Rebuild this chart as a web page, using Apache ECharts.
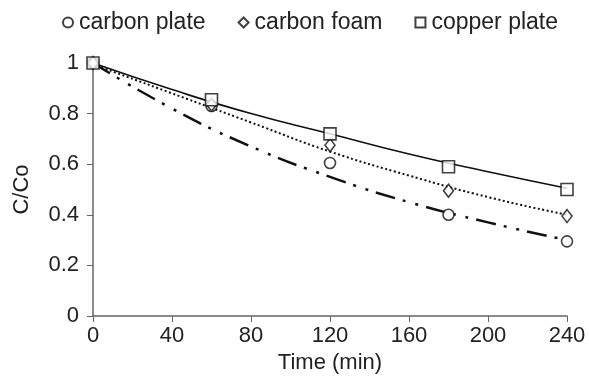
<!DOCTYPE html>
<html>
<head>
<meta charset="utf-8">
<script src="https://cdn.jsdelivr.net/npm/echarts@6/dist/echarts.min.js"></script>
<style>
  html, body { margin: 0; padding: 0; background: #fff; }
  #grafico { width: 589px; height: 387px; }
</style>
</head>
<body>
<div id="grafico"></div>
<script>
// Datos medidos (tiempo en min, C/Co)
const tiempos = [0, 60, 120, 180, 240];
const carbonPlate = [1.0, 0.83, 0.605, 0.40, 0.295];
const carbonFoam = [1.0, 0.835, 0.675, 0.495, 0.395];
const copperPlate = [1.0, 0.855, 0.72, 0.59, 0.50];

// Curvas de ajuste
const tiemposAjuste = [0, 40, 80, 120, 160, 200, 240];
const ajustePlate = [1.0, 0.82, 0.67, 0.55, 0.45, 0.37, 0.30];
const ajusteFoam = [0.995, 0.88, 0.765, 0.65, 0.555, 0.47, 0.40];
const ajusteCopper = [1.0, 0.895, 0.80, 0.72, 0.64, 0.57, 0.505];

const fuente = 'Liberation Sans, Arial, sans-serif';

function pares(xs, ys) {
    return xs.map((x, i) => [x, ys[i]]);
}

function serieMedida(nombre, simbolo, tam, datos) {
    return {
        name: nombre,
        type: 'scatter',
        symbol: simbolo,
        symbolSize: tam,
        z: 5,
        itemStyle: { color: '#fff', borderColor: '#111', borderWidth: 1.6 },
        data: pares(tiempos, datos)
    };
}

function serieAjuste(datos, tipo, ancho) {
    return {
        type: 'line',
        smooth: true,
        symbol: 'none',
        silent: true,
        z: 3,
        lineStyle: { color: '#111', width: ancho, type: tipo },
        data: pares(tiemposAjuste, datos)
    };
}

function crearGrafico() {
    return {
        animation: false,
        textStyle: { fontFamily: fuente },
        legend: {
            top: 6,
            left: 57,
            itemGap: 32,
            itemWidth: 10,
            itemHeight: 10,
            textStyle: { fontSize: 23, color: '#222', fontFamily: fuente, padding: [0, 0, 0, 1] },
            data: ['carbon plate', 'carbon foam', 'copper plate']
        },
        grid: { left: 93, right: 22, top: 63, bottom: 71 },
        xAxis: {
            type: 'value',
            min: 0,
            max: 240,
            interval: 40,
            name: 'Time (min)',
            nameLocation: 'middle',
            nameGap: 36,
            nameTextStyle: { fontSize: 22, color: '#222' },
            axisLine: { show: true, lineStyle: { color: '#666', width: 1.5 } },
            axisTick: { show: true, length: 6, lineStyle: { color: '#666' } },
            axisLabel: { fontSize: 22, color: '#222', margin: 9 },
            splitLine: { show: false }
        },
        yAxis: {
            type: 'value',
            min: 0,
            max: 1,
            interval: 0.2,
            name: 'C/Co',
            nameLocation: 'middle',
            nameGap: 60,
            nameTextStyle: { fontSize: 22, color: '#222' },
            axisLine: { show: true, lineStyle: { color: '#666', width: 1.5 } },
            axisTick: { show: true, length: 6, lineStyle: { color: '#666' } },
            axisLabel: { fontSize: 22, color: '#222', margin: 14 },
            splitLine: { show: false }
        },
        series: [
            serieAjuste(ajustePlate, [20, 8, 3, 10, 3, 8], 2.5),
            serieAjuste(ajusteFoam, [2, 2.5], 2),
            serieAjuste(ajusteCopper, 'solid', 1.6),
            serieMedida('carbon plate', 'circle', 11, carbonPlate),
            serieMedida('carbon foam', 'diamond', [10, 13], carbonFoam),
            serieMedida('copper plate', 'rect', 12, copperPlate)
        ]
    };
}

const chart = echarts.init(document.getElementById('grafico'), null, { renderer: 'canvas' });
chart.setOption(crearGrafico());
</script>
</body>
</html>
